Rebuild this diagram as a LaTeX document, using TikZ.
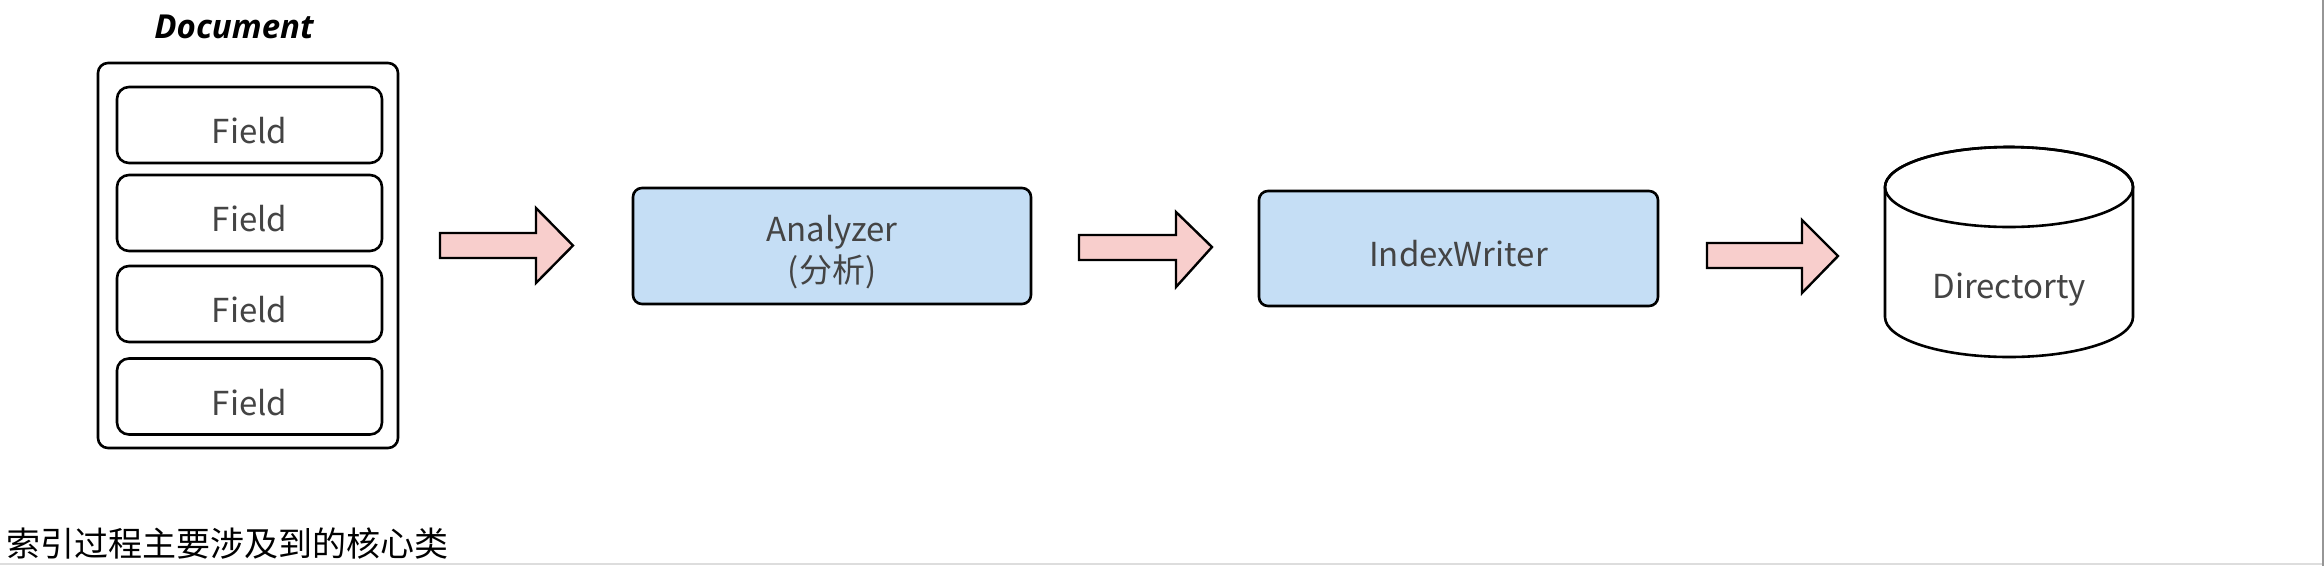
\documentclass[tikz,border=0pt]{standalone}
\usepackage{fontspec}
\setmainfont{Noto Sans CJK SC}
\newfontfamily\docfont{Open Sans}
\definecolor{boxblue}{HTML}{C5DEF5}
\definecolor{arrowpink}{HTML}{F8CECC}
\definecolor{txtgray}{HTML}{444444}
\begin{document}
\begin{tikzpicture}[x=1pt,y=-1pt,
  outline/.style={draw=black,line width=2.6pt,rounded corners=10pt},
  fieldbox/.style={outline,rounded corners=12pt,fill=white,minimum width=265pt,minimum height=76pt,inner sep=0pt},
  classbox/.style={outline,rounded corners=9pt,fill=boxblue,inner sep=0pt},
  blockarrow/.style={draw=black,line width=2.4pt,fill=arrowpink,line join=miter},
  lbl/.style={inner sep=0pt,align=center,font=\fontsize{33}{40}\selectfont,text=txtgray}]
\useasboundingbox (0,0) rectangle (2324,566);
\fill[white] (0,0) rectangle (2324,566);
\draw[color={rgb,255:red,221;green,221;blue,221},line width=2pt] (0,564) -- (2324,564);
\draw[color={rgb,255:red,150;green,150;blue,150},line width=2pt] (2322.5,0) -- (2322.5,566);

% Document
\node[inner sep=0pt,font=\docfont\fontsize{33}{38}\selectfont\bfseries\itshape] (doclbl) at (234,27) {Document};
\node[outline,fill=white,minimum width=300pt,minimum height=385pt,inner sep=0pt] (doc) at (248,255.5) {};
\foreach \i/\y in {1/125,2/213,3/304,4/396.5}{
  \node[fieldbox] (f\i) at (249.5,\y) {};
  \node[lbl] (f\i t) at ([yshift=-6pt]f\i.center) {Field};
}

% Analyzer
\node[classbox,minimum width=398pt,minimum height=116pt] (ana) at (832,246) {};
\node[lbl] (anat) at ([yshift=-6pt]ana.center) {Analyzer\\[1pt](分析)};
% IndexWriter
\node[classbox,minimum width=399pt,minimum height=115pt] (iw) at (1458.5,248.5) {};
\node[lbl] (iwt) at ([yshift=-5pt]iw.center) {IndexWriter};

% Directory cylinder
\coordinate (cyl) at (2009,252);
\draw[draw=black,line width=2.6pt,fill=white] (1885,187) -- (1885,317) arc[start angle=180,end angle=0,x radius=124,y radius=40] -- (2133,187) arc[start angle=0,end angle=-180,x radius=124,y radius=40] -- cycle;
\draw[draw=black,line width=2.6pt] (2009,187) ellipse[x radius=124,y radius=40];
\node[lbl] (dirlbl) at (2009,290) {Directorty};

% block arrows
\draw[blockarrow] (440,233) -- (536,233) -- (536,208) -- (573,245.5) -- (536,283) -- (536,258) -- (440,258) -- cycle;
\draw[blockarrow] (1079,235) -- (1176,235) -- (1176,212) -- (1212,247) -- (1176,287) -- (1176,260) -- (1079,260) -- cycle;
\draw[blockarrow] (1707,243) -- (1802,243) -- (1802,220) -- (1838,256) -- (1802,293) -- (1802,268) -- (1707,268) -- cycle;

% caption
\node[anchor=west,inner sep=0pt,font=\fontsize{34}{40}\selectfont,text=black] (cap) at (6,544) {索引过程主要涉及到的核心类};
\end{tikzpicture}
\end{document}
